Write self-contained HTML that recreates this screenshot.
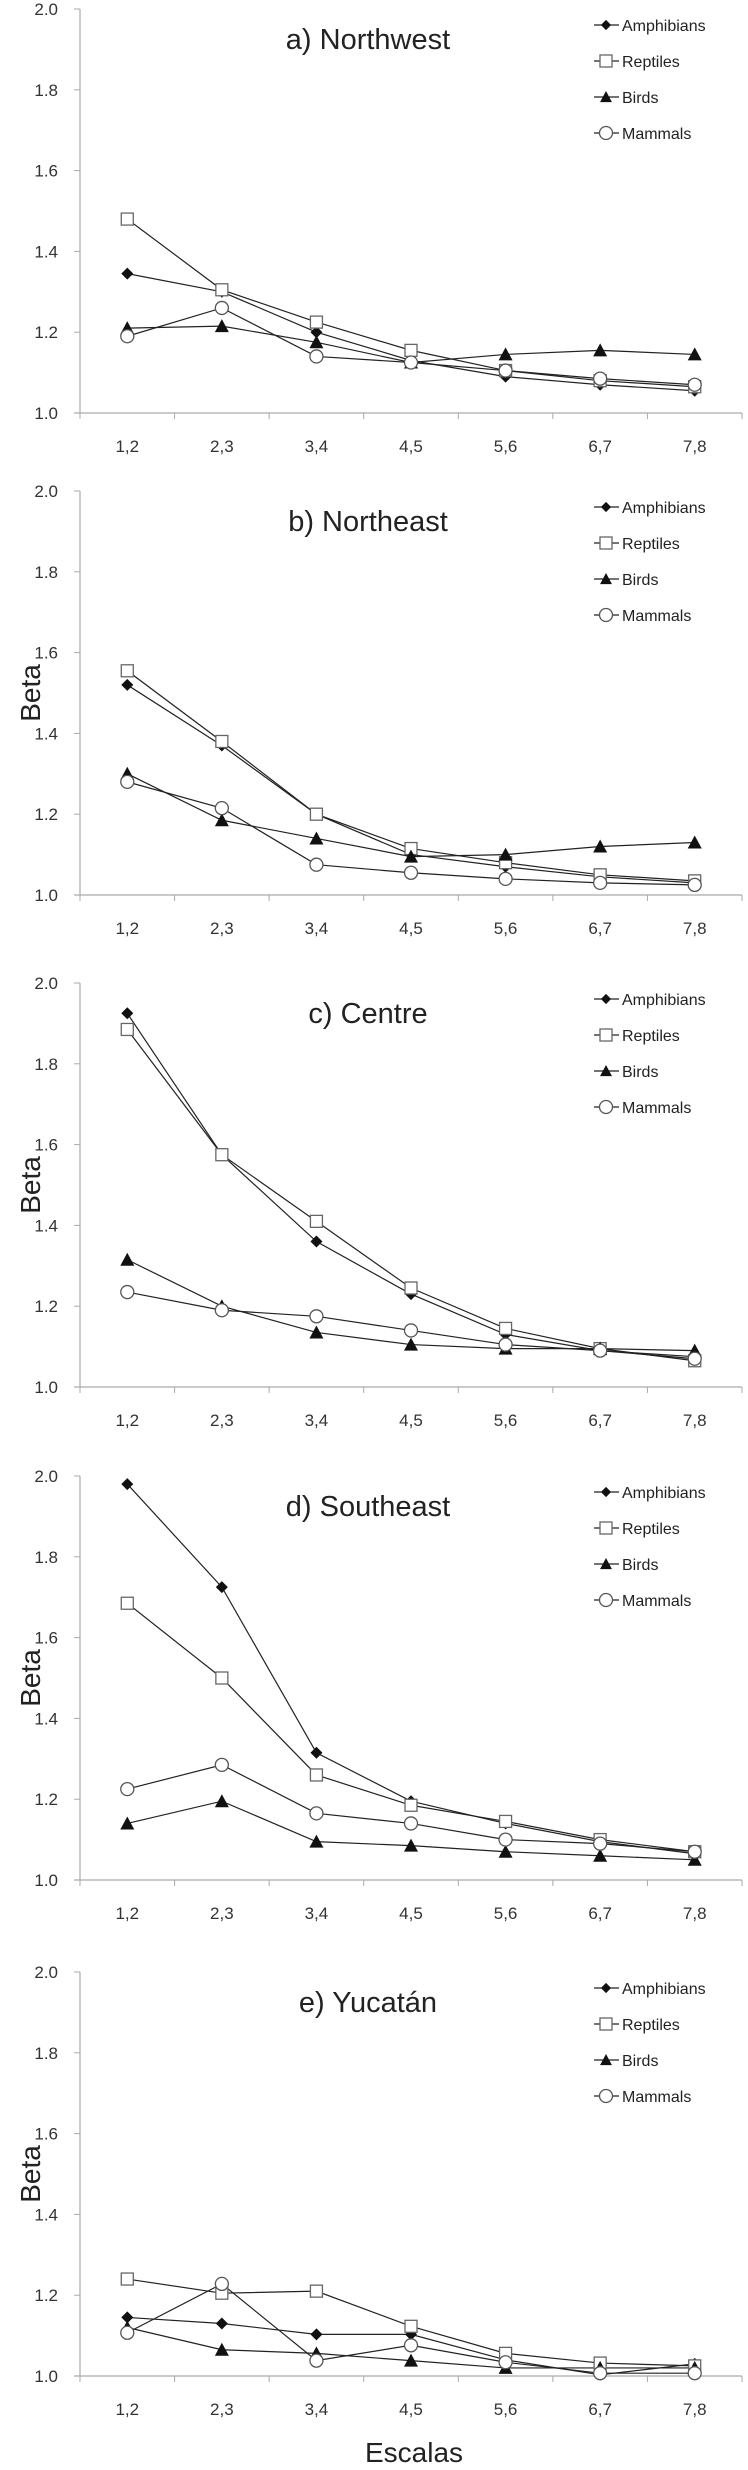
<!DOCTYPE html>
<html><head><meta charset="utf-8"><style>
body{margin:0;background:#fff;}
svg{display:block;font-family:"Liberation Sans",sans-serif;}
</style></head><body>
<svg id="chart" width="748" height="2470" viewBox="0 0 748 2470"></svg>
<script>
const categories = ["1,2","2,3","3,4","4,5","5,6","6,7","7,8"];
const yTicks = [1.0,1.2,1.4,1.6,1.8,2.0];
const panelTitles = ["a) Northwest","b) Northeast","c) Centre","d) Southeast","e) Yucatán"];
const seriesNames = ["Amphibians","Reptiles","Birds","Mammals"];
const amphibians = [
 [1.345,1.30,1.20,1.13,1.09,1.07,1.055],
 [1.52,1.37,1.20,1.10,1.07,1.045,1.03],
 [1.925,1.575,1.36,1.23,1.13,1.09,1.075],
 [1.98,1.725,1.315,1.195,1.14,1.095,1.065],
 [1.145,1.13,1.103,1.103,1.04,1.003,1.03]];
const reptiles = [
 [1.48,1.305,1.225,1.155,1.105,1.08,1.065],
 [1.555,1.38,1.20,1.115,1.08,1.05,1.035],
 [1.885,1.575,1.41,1.245,1.145,1.095,1.065],
 [1.685,1.50,1.26,1.185,1.145,1.10,1.07],
 [1.24,1.205,1.21,1.123,1.056,1.032,1.025]];
const birds = [
 [1.21,1.215,1.175,1.125,1.145,1.155,1.145],
 [1.30,1.185,1.14,1.095,1.10,1.12,1.13],
 [1.315,1.20,1.135,1.105,1.095,1.095,1.09],
 [1.14,1.195,1.095,1.085,1.07,1.06,1.05],
 [1.12,1.065,1.056,1.038,1.02,1.02,1.02]];
const mammals = [
 [1.19,1.26,1.14,1.125,1.105,1.085,1.07],
 [1.28,1.215,1.075,1.055,1.04,1.03,1.025],
 [1.235,1.19,1.175,1.14,1.105,1.09,1.07],
 [1.225,1.285,1.165,1.14,1.10,1.09,1.07],
 [1.107,1.228,1.038,1.076,1.034,1.007,1.007]];

const NS="http://www.w3.org/2000/svg";
const svg=document.getElementById('chart');
const panelTops=[9,491,983,1476,1972];
const PH=404, X0=80, X1=742, YMIN=1.0, YMAX=2.0;
function mk(tag,attrs,parent){const e=document.createElementNS(NS,tag);for(const k in attrs)e.setAttribute(k,attrs[k]);(parent||svg).appendChild(e);return e;}
function xScale(i){return X0+(X1-X0)/categories.length*(i+0.5);}
function yScale(v,top){return top+PH-(v-YMIN)/(YMAX-YMIN)*PH;}
function marker(type,x,y,g){
  let e;
  if(type===0){e=mk('polygon',{points:`${x},${y-6} ${x+6},${y} ${x},${y+6} ${x-6},${y}`,fill:'#111'},g);}
  else if(type===1){e=mk('rect',{x:x-6,y:y-6,width:12,height:12,fill:'#fff',stroke:'#666','stroke-width':1.3},g);}
  else if(type===2){e=mk('polygon',{points:`${x},${y-7} ${x+7},${y+6} ${x-7},${y+6}`,fill:'#111'},g);}
  else {e=mk('circle',{cx:x,cy:y,r:6.5,fill:'#fff',stroke:'#555','stroke-width':1.3},g);}
  return e;
}
const allSeries=[amphibians,reptiles,birds,mammals];
panelTitles.forEach((title,p)=>{
  const top=panelTops[p];
  const g=mk('g',{});
  
  
  const ya=mk('line',{x1:X0,y1:top,x2:X0,y2:top+PH,stroke:'#aaa','stroke-width':1.2},g);
  
  
  const xa=mk('line',{x1:X0-6,y1:top+PH,x2:X1,y2:top+PH,stroke:'#aaa','stroke-width':1.2},g);
  
  
  yTicks.forEach(t=>{
    const y=yScale(t,top);
    mk('line',{x1:X0-6,y1:y,x2:X0,y2:y,stroke:'#aaa'},g);
    const tx=mk('text',{x:58,y:y+6,'text-anchor':'end','font-size':17,fill:'#333'},g);
    tx.textContent=t.toFixed(1);
    
    
  });
  for(let i=0;i<=categories.length;i++){
    const x=X0+(X1-X0)/categories.length*i;
    mk('line',{x1:x,y1:top+PH,x2:x,y2:top+PH+6,stroke:'#aaa'},g);
  }
  categories.forEach((c,i)=>{
    const tx=mk('text',{x:xScale(i),y:top+PH+39,'text-anchor':'middle','font-size':17,fill:'#333'},g);
    tx.textContent=c;
    
    
  });
  const tt=mk('text',{x:368,y:top+40,'text-anchor':'middle','font-size':29,fill:'#222'},g);
  tt.textContent=title;
  
  
  if(p>0){
    const b=mk('text',{x:0,y:0,'text-anchor':'middle','font-size':28,fill:'#222',transform:`translate(40,${top+PH/2}) rotate(-90)`},g);
    b.textContent='Beta';
    
    
  }
  allSeries.forEach((s,si)=>{
    const vals=s[p];
    const pts=vals.map((v,i)=>xScale(i)+','+yScale(v,top)).join(' ');
    const pl=mk('polyline',{points:pts,fill:'none',stroke:'#222','stroke-width':1.2},g);
    
    
  });
  allSeries.forEach((s,si)=>{
    s[p].forEach((v,i)=>{
      const m=marker(si,xScale(i),yScale(v,top),g);
      
      
    });
  });
  seriesNames.forEach((n,si)=>{
    const ly=top+16+si*36;
    const lg=mk('g',{},g);
    
    
    mk('line',{x1:594,y1:ly,x2:619,y2:ly,stroke:'#222','stroke-width':1.2},lg);
    const m=marker(si,606,ly,lg);
    if(si===0||si===2){m.setAttribute('transform',`translate(${606*0.15},${ly*0.15}) scale(0.85)`);}
    const tx=mk('text',{x:622,y:ly+6,'font-size':16,fill:'#222'},lg);
    tx.textContent=n;
  });
});
const esc=mk('text',{x:414,y:2462,'text-anchor':'middle','font-size':28,fill:'#222'});
esc.textContent='Escalas';


</script>
</body></html>
